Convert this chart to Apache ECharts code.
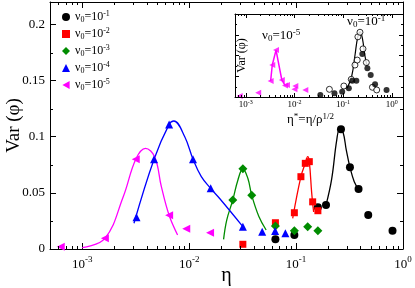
<!DOCTYPE html>
<html><head><meta charset="utf-8">
<script src="https://cdn.jsdelivr.net/npm/echarts@6/dist/echarts.min.js"></script>
<style>html,body{margin:0;padding:0;background:#fff}#c{width:415px;height:288px}</style>
</head><body><div id="c"></div>
<script>
const FONT = 'Liberation Serif';

// ---------- main plot data ----------
const blackX = [0.0641, 0.0964, 0.160, 0.1905, 0.263, 0.319, 0.384, 0.473, 0.798];
const blackY = [0.0086, 0.0125, 0.0371, 0.0392, 0.1066, 0.0728, 0.0534, 0.0303, 0.0163];
const blackCurveX = [0.1905, 0.215, 0.24, 0.256, 0.275, 0.295, 0.319, 0.35, 0.384];
const blackCurveY = [0.039, 0.062, 0.097, 0.107, 0.104, 0.088, 0.0728, 0.060, 0.0534];

const redX = [0.0318, 0.0641, 0.0964, 0.111, 0.122, 0.133, 0.143, 0.160];
const redY = [0.0042, 0.0234, 0.0323, 0.0644, 0.0763, 0.0778, 0.042, 0.0341];
const redCurveX = [0.093, 0.111, 0.122, 0.1285, 0.133, 0.140, 0.146];
const redCurveY = [0.0273, 0.0644, 0.0763, 0.0822, 0.0778, 0.050, 0.033];

const greenX = [0.0256, 0.0318, 0.0385, 0.0641, 0.0964, 0.1285, 0.160];
const greenY = [0.0436, 0.0715, 0.0478, 0.0205, 0.0163, 0.0199, 0.0163];
const greenCurveX = [0.021, 0.0225, 0.0256, 0.0286, 0.0318, 0.0354, 0.0385, 0.0449, 0.0525];
const greenCurveY = [0.0086, 0.026, 0.0436, 0.0615, 0.0715, 0.063, 0.0478, 0.029, 0.0169];

const blueX = [0.00322, 0.0047, 0.0065, 0.01087, 0.0159, 0.0318, 0.0482, 0.0637, 0.0794];
const blueY = [0.0282, 0.080, 0.111, 0.080, 0.054, 0.0199, 0.0154, 0.016, 0.014];
const blueCurveX = [0.00305, 0.0047, 0.0065, 0.0072, 0.0091, 0.01087, 0.013, 0.0159, 0.0193, 0.0318];
const blueCurveY = [0.0229, 0.080, 0.111, 0.114, 0.100, 0.080, 0.0644, 0.054, 0.045, 0.020];

const magX = [0.00063, 0.00163, 0.00317, 0.0065, 0.0094, 0.0157];
const magY = [0.002, 0.0095, 0.080, 0.030, 0.018, 0.0145];
const magCurveX = [0.001, 0.00163, 0.00242, 0.00317, 0.0039, 0.00477, 0.0055, 0.0065, 0.0078];
const magCurveY = [0.0013, 0.0095, 0.0466, 0.080, 0.0897, 0.082, 0.0555, 0.030, 0.0125];

// ---------- inset data ----------
const insMagX = [0.00075, 0.0018, 0.00324, 0.0035, 0.00418, 0.0055, 0.0064, 0.0070, 0.0100, 0.0104, 0.0167];
const insMagY = [0.0024, 0.0104, 0.0386, 0.077, 0.113, 0.041, 0.028, 0.029, 0.0185, 0.0265, 0.0169];
const insMagLineX = [0.00324, 0.0035, 0.00418, 0.0055, 0.0064];
const insMagLineY = [0.0386, 0.077, 0.113, 0.041, 0.028];

const insBlkX = [0.034, 0.0664, 0.0957, 0.131, 0.154, 0.187, 0.248, 0.315, 0.369, 0.453, 0.78];
const insBlkY = [0.0048, 0.0089, 0.0128, 0.021, 0.039, 0.039, 0.1036, 0.069, 0.053, 0.0306, 0.0169];
const insOpenX = [0.0522, 0.1035, 0.147, 0.175, 0.195, 0.201, 0.222, 0.256, 0.30, 0.40, 0.49];
const insOpenY = [0.0185, 0.0265, 0.0426, 0.077, 0.089, 0.145, 0.156, 0.116, 0.083, 0.0234, 0.017];
const insCurveX = [0.121, 0.15, 0.175, 0.2, 0.225, 0.25, 0.28, 0.31];
const insCurveY = [0.021, 0.05, 0.10, 0.145, 0.157, 0.14, 0.10, 0.075];

// ---------- axes / labels ----------
const legendNames = ['ν0=10-1', 'ν0=10-2', 'ν0=10-3', 'ν0=10-4', 'ν0=10-5'];
const legendExp = ['-1', '-2', '-3', '-4', '-5'];
const yTickLabels = [0, 0.05, 0.1, 0.15, 0.2];
const yMinorTicks = [0.025, 0.075, 0.125, 0.175];
const insYMinorTicks = [0.025, 0.075, 0.125, 0.175];
const X_MIN = 0.0005, X_MAX = 1, Y_MAX = 0.22;
const IX_MIN = 0.0006, IX_MAX = 1.7, IY_MAX = 0.2;

const zip = (xs, ys) => xs.map((x, i) => [x, ys[i]]);
function logMinor(lo, hi) {
  const out = [];
  for (let e = -5; e <= 1; e++) for (let k = 2; k <= 9; k++) {
    const v = k * Math.pow(10, e);
    if (v > lo * 1.0001 && v < hi * 0.9999) out.push(v);
  }
  return out;
}
function powLabel(v) {
  const e = Math.log10(v), r = Math.round(e);
  if (Math.abs(e - r) > 1e-6) return '';
  return '{b|10}{s|' + (r === 0 ? '0' : '-' + Math.abs(r)) + '}';
}

const chart = echarts.init(document.getElementById('c'));

const frame = (len) => ({
  axisLine: { show: true, onZero: false, lineStyle: { color: '#000', width: 1 } },
  axisTick: { show: true, inside: true, length: len, lineStyle: { color: '#000', width: 1 } },
  splitLine: { show: false }
});

function minorSeries(xAxisIndex, yAxisIndex, xs, ys, xmin, xmax, ymax, len) {
  const data = xs.map(v => [v, 0, 0]).concat(ys.map(v => [xmin, v, 1]));
  return {
    type: 'custom', xAxisIndex, yAxisIndex, silent: true, z: 5,
    encode: { x: 0, y: 1 },
    data,
    renderItem(params, api) {
      const kind = api.value(2);
      const st = { stroke: '#000', lineWidth: 1 };
      if (kind === 0) {
        const v = api.value(0);
        const a = api.coord([v, 0]), b = api.coord([v, ymax]);
        const x = Math.round(a[0]) + 0.5;
        return { type: 'group', children: [
          { type: 'line', shape: { x1: x, y1: a[1], x2: x, y2: a[1] - len }, style: st },
          { type: 'line', shape: { x1: x, y1: b[1], x2: x, y2: b[1] + len }, style: st }
        ]};
      } else {
        const v = api.value(1);
        const a = api.coord([xmin, v]), b = api.coord([xmax, v]);
        const y = Math.round(a[1]) + 0.5;
        return { type: 'group', children: [
          { type: 'line', shape: { x1: a[0], y1: y, x2: a[0] + len, y2: y }, style: st },
          { type: 'line', shape: { x1: b[0], y1: y, x2: b[0] - len, y2: y }, style: st }
        ]};
      }
    }
  };
}

const colors = ['#000000', '#ff0000', '#008c00', '#0000ff', '#ff00ff'];
const symbols = ['circle', 'rect', 'diamond', 'triangle', 'path://M0,5L9,0L9,10Z'];
const sizes = [8, 7, 9, 8, 8];
const pts = [zip(blackX, blackY), zip(redX, redY), zip(greenX, greenY), zip(blueX, blueY), zip(magX, magY)];
const curves = [zip(blackCurveX, blackCurveY), zip(redCurveX, redCurveY), zip(greenCurveX, greenCurveY), zip(blueCurveX, blueCurveY), zip(magCurveX, magCurveY)];

const series = [];
for (let i = 0; i < 5; i++) {
  series.push({
    name: legendNames[i] + 'c', type: 'line', xAxisIndex: 0, yAxisIndex: 0,
    data: curves[i], smooth: 0.4, showSymbol: false, symbol: 'none',
    lineStyle: { color: colors[i], width: 1.3 }, z: 2
  });
}
for (let i = 0; i < 5; i++) {
  series.push({
    name: legendNames[i], type: 'scatter', xAxisIndex: 0, yAxisIndex: 0,
    data: pts[i], symbol: symbols[i], symbolSize: sizes[i],
    itemStyle: { color: colors[i], opacity: 1 }, z: 3
  });
}
// inset series
series.push({
  name: 'insMagLine', type: 'line', xAxisIndex: 2, yAxisIndex: 2, data: zip(insMagLineX, insMagLineY),
  showSymbol: false, symbol: 'none', lineStyle: { color: '#ff00ff', width: 1.5 }, z: 12
});
series.push({
  name: 'insMag', type: 'scatter', xAxisIndex: 2, yAxisIndex: 2, data: zip(insMagX, insMagY),
  symbol: symbols[4], symbolSize: 6, itemStyle: { color: '#ff00ff' }, z: 13
});
series.push({
  name: 'insCurve', type: 'line', xAxisIndex: 2, yAxisIndex: 2, data: zip(insCurveX, insCurveY),
  smooth: 0.4, showSymbol: false, symbol: 'none', lineStyle: { color: '#000', width: 1.2 }, z: 12
});
series.push({
  name: 'insOpen', type: 'scatter', xAxisIndex: 2, yAxisIndex: 2, data: zip(insOpenX, insOpenY),
  symbol: 'circle', symbolSize: 6, itemStyle: { color: '#fff', borderColor: '#000', borderWidth: 1 }, z: 13
});
series.push({
  name: 'insBlk', type: 'scatter', xAxisIndex: 2, yAxisIndex: 2, data: zip(insBlkX, insBlkY),
  symbol: 'circle', symbolSize: 6, itemStyle: { color: '#000' }, z: 13
});
series.push(minorSeries(0, 0, logMinor(X_MIN, X_MAX), yMinorTicks, X_MIN, X_MAX, Y_MAX, 3));
series.push(Object.assign(minorSeries(2, 2, logMinor(IX_MIN, IX_MAX), insYMinorTicks, IX_MIN, IX_MAX, IY_MAX, 2), { z: 14 }));

const richMainX = { b: { fontFamily: FONT, fontSize: 13, lineHeight: 20, color: '#000' }, s: { fontFamily: FONT, fontSize: 9, lineHeight: 10, verticalAlign: 'top', color: '#000' } };
const richInsX = { b: { fontFamily: FONT, fontSize: 9, lineHeight: 12, color: '#000' }, s: { fontFamily: FONT, fontSize: 6, lineHeight: 6, verticalAlign: 'top', color: '#000' } };
const richAnn = {
  p: { fontFamily: FONT, fontSize: 13, lineHeight: 15, fill: '#000' },
  d: { fontFamily: FONT, fontSize: 9, lineHeight: 9, verticalAlign: 'bottom', fill: '#000' },
  u: { fontFamily: FONT, fontSize: 9, lineHeight: 9, verticalAlign: 'top', fill: '#000' },
  a: { fontFamily: FONT, fontSize: 13, lineHeight: 16, fill: '#000' },
  st: { fontFamily: FONT, fontSize: 9, lineHeight: 11, verticalAlign: 'top', fill: '#000' }
};

const option = {
  animation: false,
  backgroundColor: '#fff',
  grid: [
    { left: 50, right: 12, top: 2, bottom: 39, containLabel: false, outerBoundsMode: 'none' },
    { left: 235, right: 12, top: 14, bottom: 191, containLabel: false, outerBoundsMode: 'none',
      show: true, backgroundColor: '#fff', borderWidth: 0, z: 10 }
  ],
  legend: {
    data: legendNames.map((n, i) => ({ name: n, icon: symbols[i] })),
    orient: 'vertical', left: 57, top: 5, itemWidth: 8, itemHeight: 8, itemGap: 3,
    selectedMode: false,
    formatter: (n) => '{p|ν}{d|0}{p|=10}{u|' + legendExp[legendNames.indexOf(n)] + '}',
    textStyle: {
      fontFamily: FONT, color: '#000',
      rich: {
        p: { fontFamily: FONT, fontSize: 12, lineHeight: 14, color: '#000' },
        d: { fontFamily: FONT, fontSize: 8, lineHeight: 8, verticalAlign: 'bottom', color: '#000' },
        u: { fontFamily: FONT, fontSize: 8, lineHeight: 8, verticalAlign: 'top', color: '#000' }
      }
    }
  },
  xAxis: [
    Object.assign({
      type: 'log', logBase: 10, gridIndex: 0, min: X_MIN, max: X_MAX, position: 'bottom',
      axisLabel: { formatter: powLabel, margin: 6, rich: richMainX },
      name: 'η', nameLocation: 'middle', nameGap: 17, nameMoveOverlap: false,
      nameTextStyle: { fontFamily: FONT, fontSize: 20, color: '#000', verticalAlign: 'top' }
    }, frame(6)),
    Object.assign({
      type: 'log', logBase: 10, gridIndex: 0, min: X_MIN, max: X_MAX, position: 'top',
      axisLabel: { show: false }
    }, frame(6)),
    Object.assign({
      type: 'log', logBase: 10, gridIndex: 1, min: IX_MIN, max: IX_MAX, position: 'bottom', z: 14,
      axisLabel: { formatter: powLabel, margin: 2, rich: richInsX }
    }, frame(4)),
    Object.assign({
      type: 'log', logBase: 10, gridIndex: 1, min: IX_MIN, max: IX_MAX, position: 'top', z: 14,
      axisLabel: { show: false }
    }, frame(4))
  ],
  yAxis: [
    Object.assign({
      type: 'value', gridIndex: 0, min: 0, max: Y_MAX, interval: 0.05, position: 'left',
      axisLabel: {
        formatter: (v) => yTickLabels.some(t => Math.abs(t - v) < 1e-9) ? String(+v.toFixed(3)) : '',
        fontFamily: FONT, fontSize: 13, color: '#000', margin: 5
      },
      name: 'Var (φ)', nameLocation: 'middle', nameGap: 26, nameRotate: 90, nameMoveOverlap: false,
      nameTextStyle: { fontFamily: FONT, fontSize: 19, color: '#000' }
    }, frame(6)),
    Object.assign({
      type: 'value', gridIndex: 0, min: 0, max: Y_MAX, interval: 0.05, position: 'right',
      axisLabel: { show: false }
    }, frame(6)),
    Object.assign({
      type: 'value', gridIndex: 1, min: 0, max: IY_MAX, interval: 0.05, position: 'left', z: 14,
      axisLabel: { show: false },
      name: 'Var (φ)', nameLocation: 'middle', nameGap: -13, nameRotate: 90, nameMoveOverlap: false,
      nameTextStyle: { fontFamily: FONT, fontSize: 12, color: '#000' }
    }, frame(4)),
    Object.assign({
      type: 'value', gridIndex: 1, min: 0, max: IY_MAX, interval: 0.05, position: 'right', z: 14,
      axisLabel: { show: false }
    }, frame(4))
  ],
  graphic: [
    { type: 'text', left: 262, top: 28, z: 100, style: { rich: richAnn, text: '{p|ν}{d|0}{p|=10}{u|-5}' } },
    { type: 'text', left: 347, top: 14, z: 100, style: { rich: richAnn, text: '{p|ν}{d|0}{p|=10}{u|-1}' } },
    { type: 'text', left: 287, top: 112, z: 100, style: { rich: richAnn, text: '{a|η}{st|*}{a|=η/ρ}{u|1/2}' } }
  ],
  series
};
chart.setOption(option);
</script>
</body></html>
